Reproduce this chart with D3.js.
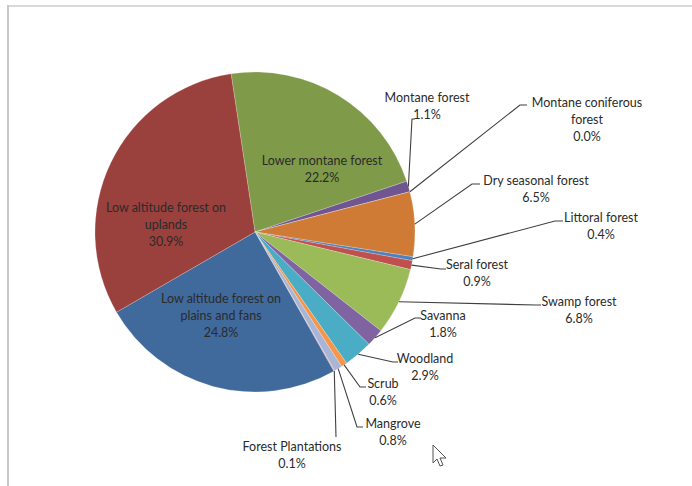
<!DOCTYPE html>
<html>
<head>
<meta charset="utf-8">
<script src="https://cdn.jsdelivr.net/npm/d3@7"></script>
<style>
  html, body { margin: 0; padding: 0; background: #fff; }
  svg { display: block; }
</style>
</head>
<body>
<svg id="chart" width="692" height="486"></svg>
<script>
// Forest cover by type, share of total area (%), listed clockwise
const categories = [
  "Lower montane forest", "Montane forest", "Montane coniferous forest",
  "Dry seasonal forest", "Littoral forest", "Seral forest", "Swamp forest",
  "Savanna", "Woodland", "Scrub", "Mangrove", "Forest Plantations",
  "Low altitude forest on plains and fans", "Low altitude forest on uplands"
];
const shares = [22.2, 1.1, 0.0, 6.5, 0.4, 0.9, 6.8, 1.8, 2.9, 0.6, 0.8, 0.1, 24.8, 30.9];
const sliceColors = [
  "#7f9a48", "#6f5690", "#2c8aa0", "#cf7b35", "#4f81bd", "#c0504d", "#9bbb59",
  "#8064a2", "#4bacc6", "#f79646", "#a9b5d6", "#d9a3a2", "#40699c", "#9a403d"
];
// Label text lines (the last line shows the percentage)
const labelLines = [
  ["Lower montane forest"], ["Montane forest"], ["Montane coniferous", "forest"],
  ["Dry seasonal forest"], ["Littoral forest"], ["Seral forest"], ["Swamp forest"],
  ["Savanna"], ["Woodland"], ["Scrub"], ["Mangrove"], ["Forest Plantations"],
  ["Low altitude forest on", "plains and fans"], ["Low altitude forest on", "uplands"]
];

// Layout
const W = 692, H = 486;
const cx = 255, cy = 232, R = 160;
const lineH = 17;
const startDeg = -8.6;

// label placement: [centre x, first-line y, leader elbow, leader end] ; inside labels have no leader
const labelLayout = {
  "Lower montane forest": { x: 322, y: 160 },
  "Low altitude forest on uplands": { x: 166, y: 207 },
  "Low altitude forest on plains and fans": { x: 221, y: 298 },
  "Montane forest": { x: 427, y: 97, elbow: [412, 119], end: [415, 119] },
  "Montane coniferous forest": { x: 587, y: 102, elbow: [520, 105], end: [527, 105] },
  "Dry seasonal forest": { x: 536, y: 180, elbow: [472, 184], end: [480, 184] },
  "Littoral forest": { x: 601, y: 217, elbow: [555, 221], end: [563, 221] },
  "Seral forest": { x: 477, y: 264, elbow: [441, 269], end: [446, 269] },
  "Swamp forest": { x: 579, y: 301, elbow: [536, 305], end: [541, 305] },
  "Savanna": { x: 443, y: 315, elbow: [415, 318], end: [421, 318] },
  "Woodland": { x: 425, y: 358, elbow: [393, 362], end: [398, 362] },
  "Scrub": { x: 383, y: 383, elbow: [360, 387], end: [366, 387] },
  "Mangrove": { x: 393, y: 423, elbow: [357, 427], end: [363, 427] },
  "Forest Plantations": { x: 292, y: 446, elbow: [336, 437], end: [336, 437] }
};

const svg = d3.select("#chart");

// chart-area frame (top and left edges visible)
svg.append("line").attr("x1", 8).attr("x2", W).attr("y1", 6).attr("y2", 6)
  .attr("stroke", "#d9d9d9").attr("stroke-width", 2);
svg.append("line").attr("x1", 8).attr("x2", 8).attr("y1", 5).attr("y2", H)
  .attr("stroke", "#c9c9c9").attr("stroke-width", 2);

const data = categories.map((c, i) => ({ name: c, value: shares[i], color: sliceColors[i], lines: labelLines[i] }));

const start = startDeg * Math.PI / 180;
const pie = d3.pie().sort(null).value(d => d.value)
  .startAngle(start).endAngle(start + 2 * Math.PI);
const arcs = pie(data);
const arc = d3.arc().innerRadius(0).outerRadius(R);

const g = svg.append("g").attr("transform", `translate(${cx},${cy})`);
g.selectAll("path.slice").data(arcs).enter().append("path")
  .attr("class", "slice")
  .attr("d", arc)
  .attr("fill", d => d.data.color)
  .attr("stroke", "rgba(255,255,255,0.35)")
  .attr("stroke-width", 0.6);

// leader lines from the slice edge through an elbow to the label
const leaders = svg.append("g");
arcs.forEach(a => {
  const L = labelLayout[a.data.name];
  if (!L.elbow) return;
  const mid = (a.startAngle + a.endAngle) / 2;
  const p0 = [cx + R * Math.sin(mid), cy - R * Math.cos(mid)];
  leaders.append("path")
    .attr("d", d3.line()([p0, L.elbow, L.end]))
    .attr("fill", "none")
    .attr("stroke", "#404040")
    .attr("stroke-width", 1.1);
});

// labels: category name lines followed by the percentage
const fmt = d3.format(".1f");
const labels = svg.append("g")
  .attr("font-family", "Lato, 'Open Sans', sans-serif")
  .attr("font-size", 12.5)
  .attr("fill", "#2b2b2b")
  .attr("text-anchor", "middle");
arcs.forEach(a => {
  const L = labelLayout[a.data.name];
  const lines = a.data.lines.concat([fmt(a.data.value) + "%"]);
  const t = labels.append("text").attr("x", L.x).attr("y", L.y)
    .attr("dominant-baseline", "central");
  lines.forEach((s, i) => {
    t.append("tspan").attr("x", L.x).attr("y", L.y + i * lineH).text(s);
  });
});

// mouse pointer resting on the chart
svg.append("path")
  .attr("d", "M433,445 L433,463 L437,459 L440,466 L443,465 L440,458 L446,458 Z")
  .attr("fill", "#fff").attr("stroke", "#555").attr("stroke-width", 1);
</script>
</body>
</html>
